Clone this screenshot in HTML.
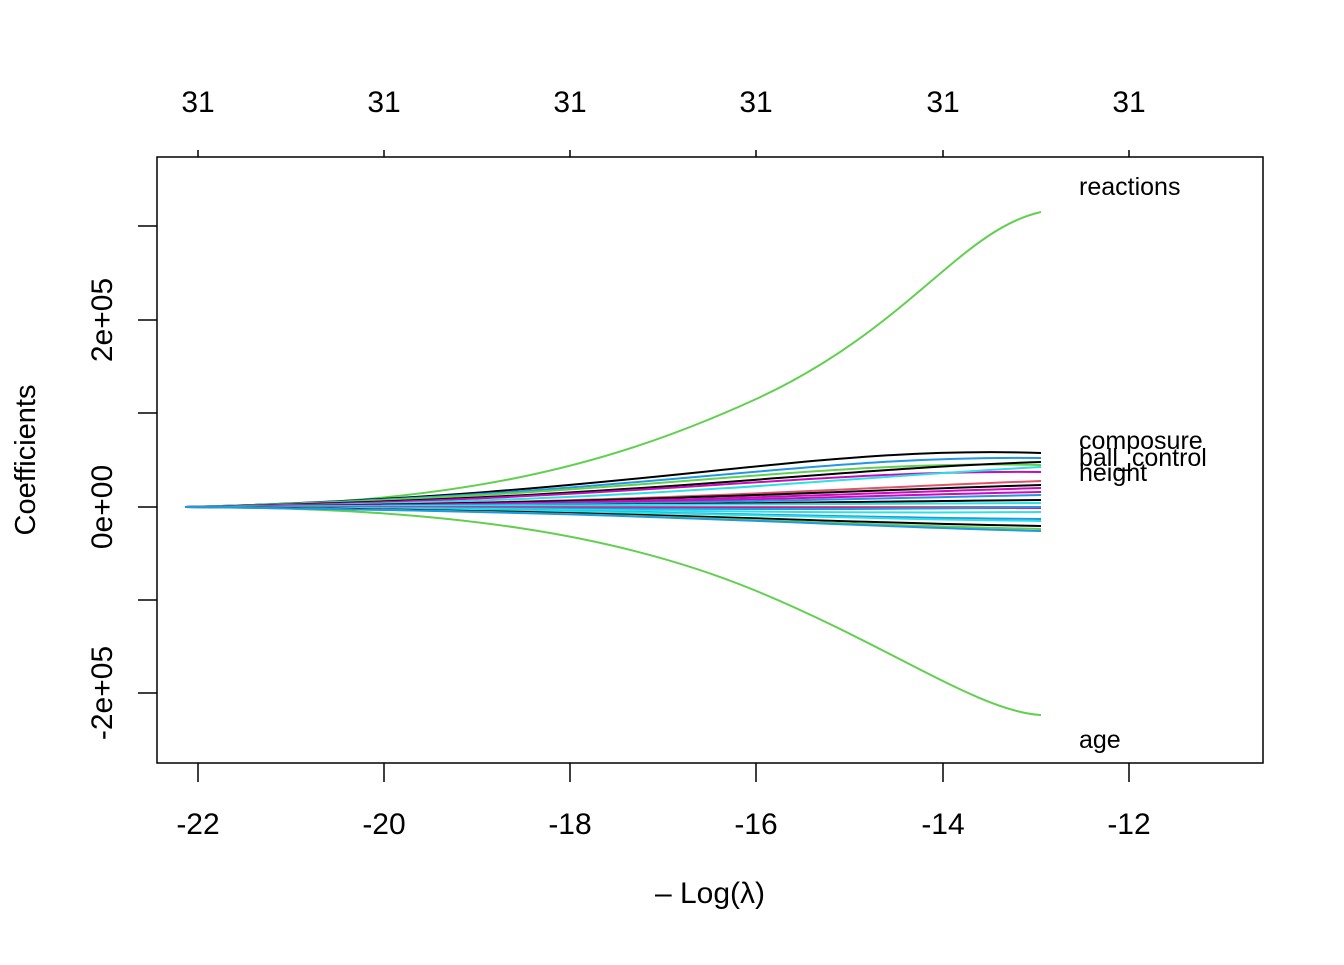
<!DOCTYPE html><html><head><style>body{margin:0;background:#fff}</style></head><body>
<svg width="1344" height="960" xmlns="http://www.w3.org/2000/svg" font-family="Liberation Sans, sans-serif">
<rect x="157" y="157" width="1106" height="606" fill="none" stroke="#000" stroke-width="1.5"/>
<g stroke="#000" stroke-width="1.5">
<line x1="198" y1="763" x2="198" y2="782"/><line x1="384" y1="763" x2="384" y2="782"/><line x1="570" y1="763" x2="570" y2="782"/><line x1="756" y1="763" x2="756" y2="782"/><line x1="943" y1="763" x2="943" y2="782"/><line x1="1129" y1="763" x2="1129" y2="782"/>
<line x1="198" y1="157" x2="198" y2="150"/><line x1="384" y1="157" x2="384" y2="150"/><line x1="570" y1="157" x2="570" y2="150"/><line x1="756" y1="157" x2="756" y2="150"/><line x1="943" y1="157" x2="943" y2="150"/><line x1="1129" y1="157" x2="1129" y2="150"/>
<line x1="157" y1="226" x2="138" y2="226"/><line x1="157" y1="320" x2="138" y2="320"/><line x1="157" y1="413" x2="138" y2="413"/><line x1="157" y1="507" x2="138" y2="507"/><line x1="157" y1="600" x2="138" y2="600"/><line x1="157" y1="693" x2="138" y2="693"/>
</g>
<g font-size="30" text-anchor="middle">
<text x="198" y="834">-22</text><text x="384" y="834">-20</text><text x="570" y="834">-18</text><text x="756" y="834">-16</text><text x="943" y="834">-14</text><text x="1129" y="834">-12</text>
<text x="198" y="112">31</text><text x="384" y="112">31</text><text x="570" y="112">31</text><text x="756" y="112">31</text><text x="943" y="112">31</text><text x="1129" y="112">31</text>
<text transform="translate(112,320) rotate(-90)">2e+05</text>
<text transform="translate(112,507) rotate(-90)">0e+00</text>
<text transform="translate(112,693) rotate(-90)">-2e+05</text>
<text transform="translate(35,460) rotate(-90)" font-size="29">Coefficients</text>
<text x="710" y="903" font-size="30">– Log(λ)</text>
</g>
<g fill="none" stroke-width="2">
<path d="M185 507 C450 505 600 470 754 400 S 960 230 1041 212" stroke="#61D04F"/>
<path d="M185 507 C450 507 620 535 754 590 S 980 712 1041 715" stroke="#61D04F"/>
<path d="M185 507 C650 495 800 445 1041 453" stroke="#000"/>
<path d="M185 507 C650 495 800 455 1041 458" stroke="#2297E6"/>
<path d="M185 507 C650 496 800 460 1041 465" stroke="#61D04F"/>
<path d="M185 507 C650 498 800 470 1041 462" stroke="#000"/>
<path d="M185 507 C650 500 800 470 1041 472" stroke="#CD0BBC"/>
<path d="M185 507 C650 502 800 480 1041 467" stroke="#28E2E5"/>
<path d="M185 507 C650 503 800 490 1041 481" stroke="#DF536B"/>
<path d="M185 507 C650 503 800 492 1041 485" stroke="#000"/>
<path d="M185 507 C650 504 800 495 1041 488" stroke="#CD0BBC"/>
<path d="M185 507 C650 505 800 497 1041 492" stroke="#CD0BBC"/>
<path d="M185 507 C650 505 800 500 1041 495" stroke="#2297E6"/>
<path d="M185 507 C650 506 800 502 1041 500" stroke="#000"/>
<path d="M185 507 C650 506 800 504 1041 503" stroke="#28E2E5"/>
<path d="M185 507 C650 507 800 507 1041 507" stroke="#DF536B"/>
<path d="M185 507 C650 508 800 509 1041 508" stroke="#CD0BBC"/>
<path d="M185 507 C650 508 800 511 1041 507" stroke="#2297E6"/>
<path d="M185 507 C650 509 800 514 1041 512" stroke="#28E2E5"/>
<path d="M185 507 C650 510 800 517 1041 519" stroke="#2297E6"/>
<path d="M185 507 C650 510 800 518 1041 521" stroke="#28E2E5"/>
<path d="M185 507 C650 511 800 522 1041 526" stroke="#000"/>
<path d="M185 507 C650 512 800 524 1041 529" stroke="#61D04F"/>
<path d="M185 507 C650 512 800 525 1041 531" stroke="#2297E6"/>
</g>
<g font-size="25">
<text x="1079" y="195">reactions</text>
<text x="1079" y="449">composure</text>
<text x="1079" y="466">ball_control</text>
<text x="1079" y="481">height</text>
<text x="1079" y="748">age</text>
</g>
</svg></body></html>
